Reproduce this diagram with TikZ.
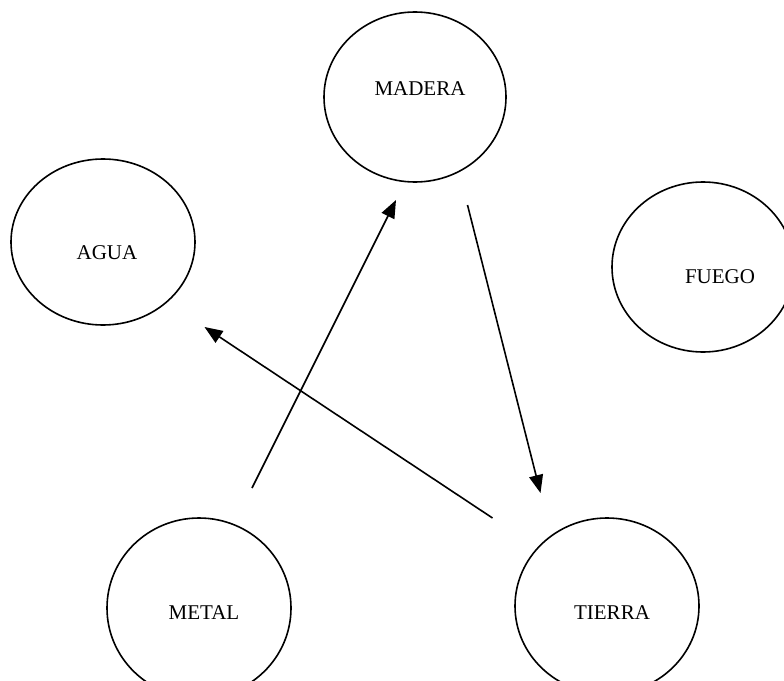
\documentclass[tikz,border=0pt]{standalone}
\usepackage{fontspec}
\setmainfont{Liberation Serif}
\usetikzlibrary{arrows.meta,shapes.geometric}

\begin{document}
\begin{tikzpicture}[x=1pt,y=-1pt,
  element/.style={draw,ellipse,line width=1.6pt,inner sep=0pt},
  word/.style={inner sep=0pt,anchor=center,font=\fontsize{21}{24}\selectfont},
  arr/.style={line width=1.6pt,-{Triangle[length=18pt,width=14pt]}}]
  \useasboundingbox (0,0) rectangle (784,680);

  % the five elements
  \node[element,minimum width=182pt,minimum height=170pt] (madera) at (415,97) {};
  \node[element,minimum width=184pt,minimum height=166pt] (agua)   at (103,242) {};
  \node[element,minimum width=182pt,minimum height=170pt] (fuego)  at (703,267) {};
  \node[element,minimum width=184pt,minimum height=180pt] (metal)  at (199,608) {};
  \node[element,minimum width=184pt,minimum height=176pt] (tierra) at (607,606) {};

  % labels
  \node[word] (tmadera) at (420,89)  {MADERA};
  \node[word] (tagua)   at (107,253) {AGUA};
  \node[word] (tfuego)  at (720,277) {FUEGO};
  \node[word] (tmetal)  at (204,613) {METAL};
  \node[word] (ttierra) at (612,613) {TIERRA};

  % free ends of the connectors
  \coordinate (metalout)   at (252,488);
  \coordinate (maderain)   at (396,200);
  \coordinate (maderaout)  at (467.5,205);
  \coordinate (tierrain)   at (540.5,493);
  \coordinate (tierraout)  at (492.5,518);
  \coordinate (aguain)     at (204.5,327);

  \draw[arr] (metalout) -- (maderain);
  \draw[arr] (maderaout) -- (tierrain);
  \draw[arr] (tierraout) -- (aguain);
\end{tikzpicture}
\end{document}
